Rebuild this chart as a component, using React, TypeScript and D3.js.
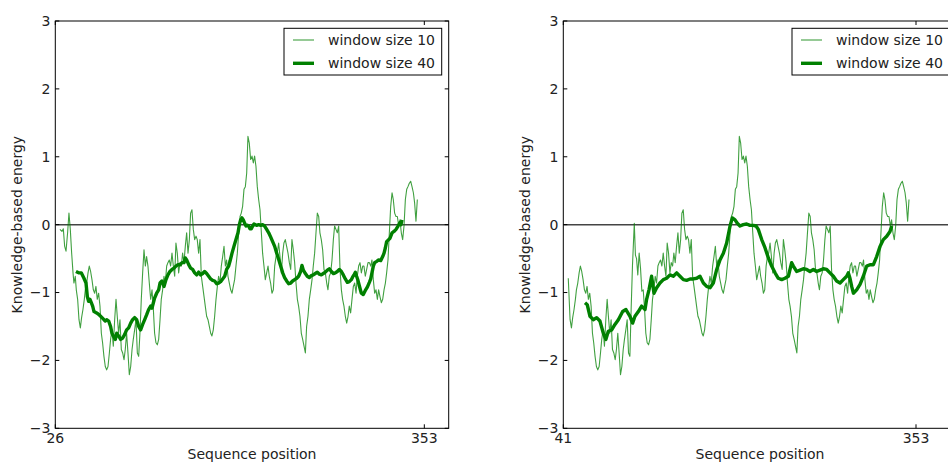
import React from "react";
import * as d3 from "d3";

// ---------- data ----------
const SERIES_LABELS = ["window size 10", "window size 40"];
const Y_TICKS = [-3, -2, -1, 0, 1, 2, 3];
const LEFT_X_TICKS = [26, 353];
const RIGHT_X_TICKS = [41, 353];
const LEFT_X_DOMAIN = [26, 374.6];
const RIGHT_X_DOMAIN = [41, 389];
const X_LABEL = "Sequence position";
const Y_LABEL = "Knowledge-based energy";

const LEFT_THIN_POS = [30.1,31.9,33.1,34.3,35.5,36.9,38.1,39.3,40.5,41.7,42.5,43.7,44.6,45.8,47.0,48.2,49.3,50.5,51.7,52.6,53.8,55.0,56.1,57.3,58.5,59.7,60.9,62.0,63.2,64.4,65.6,66.8,67.9,69.1,70.3,71.5,72.7,73.9,75.0,76.2,77.4,78.6,79.8,80.9,82.1,83.3,84.5,85.7,86.9,88.0,89.2,90.4,91.6,92.8,94.0,95.1,96.3,97.5,98.7,99.9,101.0,102.2,103.4,104.6,105.8,106.9,108.1,109.3,110.5,111.7,112.9,114.0,115.2,116.4,117.6,118.8,119.9,121.1,122.3,123.5,124.7,125.8,127.0,128.2,129.4,130.6,131.8,132.9,134.1,135.3,136.5,137.7,138.8,140.0,141.2,142.4,143.6,144.8,145.9,147.1,148.3,149.5,150.7,151.8,153.0,154.2,155.4,156.6,157.8,158.9,160.1,161.3,162.5,163.7,164.8,166.0,167.2,168.4,169.6,170.7,171.9,173.1,174.3,175.5,176.7,177.8,179.0,180.2,181.4,182.6,183.7,184.9,186.1,187.3,188.5,189.7,190.8,192.0,193.2,194.4,195.6,196.7,197.9,199.1,200.3,201.5,202.6,203.8,205.0,206.2,207.4,208.6,209.7,210.9,212.1,213.3,214.5,215.6,216.8,218.0,219.2,220.4,221.6,222.7,223.9,225.1,226.3,227.5,228.6,229.8,231.0,232.2,233.4,234.6,235.7,236.9,238.1,239.3,240.5,241.6,242.8,244.0,245.2,246.4,247.6,248.7,249.9,251.1,252.3,253.5,254.6,255.8,257.0,258.2,259.4,260.5,261.7,262.9,264.1,265.3,266.5,267.6,268.8,270.0,271.2,272.4,273.5,274.7,275.9,277.1,278.3,279.5,280.6,281.8,283.0,284.2,285.4,286.5,287.7,288.9,290.1,291.3,292.5,293.6,294.8,296.0,297.2,298.4,299.5,300.7,301.9,303.1,304.3,305.5,306.6,307.8,309.0,310.2,311.4,312.5,313.7,314.9,316.1,317.3,318.5,319.6,320.8,322.0,323.2,324.4,325.5,326.7,327.9,329.1,330.3,331.4,332.6,333.8,335.0,336.2,337.4,338.5,339.7,340.9,342.1,343.3,344.4,345.6,346.8];
const LEFT_THIN_VAL = [-0.07,-0.10,-0.06,-0.32,-0.39,-0.12,0.17,-0.07,-0.42,-0.71,-0.86,-0.76,-0.96,-1.10,-1.40,-1.52,-1.37,-1.25,-1.10,-0.96,-0.86,-0.71,-0.61,-0.69,-0.81,-0.96,-1.01,-0.91,-1.10,-1.01,-1.20,-1.60,-1.74,-1.94,-2.09,-2.14,-2.09,-1.89,-1.69,-1.55,-1.79,-1.40,-1.10,-1.35,-1.60,-1.40,-1.84,-1.89,-1.99,-1.84,-1.60,-1.89,-2.21,-2.09,-1.84,-1.69,-1.55,-1.40,-1.89,-1.94,-1.60,-1.10,-0.71,-0.37,-0.61,-0.47,-0.61,-0.86,-1.10,-0.96,-1.25,-1.60,-1.74,-1.77,-1.69,-1.40,-1.10,-0.96,-0.76,-0.86,-0.61,-0.56,-0.52,-0.61,-0.42,-0.61,-0.76,-0.27,-0.42,-0.71,-0.56,-0.61,-0.42,-0.56,-0.32,-0.12,-0.42,-0.22,0.17,0.22,-0.07,-0.22,-0.17,-0.22,-0.42,-0.22,-0.76,-0.91,-1.06,-1.20,-1.35,-1.40,-1.50,-1.60,-1.64,-1.55,-1.35,-1.10,-0.91,-0.76,-0.86,-0.61,-0.47,-0.32,-0.61,-0.52,-0.76,-0.86,-0.96,-1.01,-0.91,-0.81,-0.61,-0.42,-0.12,0.12,0.17,0.27,0.52,0.56,0.76,1.30,1.20,0.96,1.01,0.91,1.01,0.86,0.56,0.37,0.22,-0.12,-0.42,-0.61,-0.81,-0.71,-0.61,-0.76,-0.86,-1.01,-0.96,-0.61,-0.47,-0.42,-0.27,-0.47,-0.71,-0.42,-0.27,-0.22,-0.32,-0.42,-0.56,-0.66,-0.22,-0.37,-0.56,-0.86,-1.10,-1.20,-1.35,-1.60,-1.69,-1.79,-1.89,-1.50,-1.35,-1.10,-0.96,-0.81,-0.61,-0.42,-0.12,0.17,0.12,-0.12,-0.22,-0.37,-0.66,-0.71,-0.86,-0.96,-0.76,-0.71,-0.52,-0.22,-0.02,-0.07,-0.12,-0.02,-0.66,-0.96,-1.10,-1.20,-1.35,-1.45,-1.35,-1.20,-1.30,-1.10,-0.91,-0.86,-1.01,-0.76,-0.61,-0.56,-0.71,-0.61,-0.61,-0.76,-0.66,-0.56,-0.56,-0.61,-0.52,-0.81,-1.01,-0.96,-1.10,-0.96,-1.06,-1.15,-1.10,-0.96,-0.86,-0.71,-0.52,-0.12,0.27,0.47,0.37,0.17,0.12,0.12,-0.02,0.07,-0.12,-0.22,-0.02,0.37,0.52,0.56,0.61,0.64,0.56,0.47,0.32,0.05,0.37];

const LEFT_THICK_POS = [44.3,46.7,49.0,51.4,53.2,54.4,55.5,56.7,57.9,59.1,60.3,62.6,65.0,67.4,69.1,70.3,71.5,73.3,75.0,76.2,77.4,79.2,80.4,82.1,83.9,85.7,87.4,89.2,91.0,92.8,94.5,96.3,98.1,99.9,101.6,103.4,105.2,106.9,108.7,110.5,111.7,112.9,114.0,115.8,117.6,118.8,120.5,122.3,124.1,125.8,127.6,129.4,131.2,132.9,134.7,136.5,138.3,140.0,141.2,142.4,144.2,145.9,147.7,149.5,151.3,153.0,154.8,156.6,158.3,160.1,161.9,163.7,165.4,167.2,169.0,170.7,172.5,174.3,176.1,177.8,179.6,180.8,182.6,184.3,186.1,187.9,189.1,190.2,191.4,192.6,193.8,195.0,196.2,197.3,198.5,199.7,200.9,202.1,203.2,204.4,206.2,208.0,209.7,211.5,213.3,215.1,216.8,218.6,220.4,222.2,223.9,225.7,227.5,229.2,231.0,232.8,234.6,236.3,238.1,239.9,241.6,243.4,244.6,245.8,247.6,249.3,251.1,252.9,254.6,256.4,258.2,260.0,261.7,263.5,265.3,267.1,268.8,270.6,272.4,274.1,275.9,277.7,279.5,281.2,283.0,284.8,286.5,288.3,289.5,290.7,291.9,293.0,294.2,295.4,297.2,298.9,300.7,302.5,304.3,305.5,306.6,307.8,309.0,310.8,312.5,314.3,316.1,317.3,318.5,319.6,321.4,322.6,324.4,326.1,327.9,329.7,331.4,332.3,333.2];
const LEFT_THICK_VAL = [-0.69,-0.71,-0.71,-0.79,-0.86,-1.06,-1.13,-1.10,-1.15,-1.20,-1.28,-1.30,-1.33,-1.37,-1.40,-1.42,-1.40,-1.42,-1.50,-1.60,-1.64,-1.69,-1.60,-1.64,-1.69,-1.67,-1.62,-1.55,-1.52,-1.45,-1.40,-1.37,-1.40,-1.50,-1.55,-1.47,-1.40,-1.33,-1.25,-1.20,-1.23,-1.15,-1.08,-1.01,-0.96,-0.86,-0.83,-0.91,-0.81,-0.74,-0.69,-0.66,-0.64,-0.61,-0.59,-0.59,-0.56,-0.56,-0.49,-0.52,-0.59,-0.64,-0.66,-0.71,-0.74,-0.70,-0.74,-0.72,-0.69,-0.72,-0.76,-0.80,-0.82,-0.83,-0.87,-0.86,-0.84,-0.80,-0.76,-0.66,-0.61,-0.54,-0.42,-0.32,-0.22,-0.12,0.00,0.07,0.10,0.07,0.02,-0.02,-0.01,-0.02,-0.06,-0.06,-0.02,0.01,0.00,-0.01,0.00,-0.01,0.00,-0.02,-0.07,-0.12,-0.18,-0.25,-0.32,-0.42,-0.51,-0.61,-0.71,-0.78,-0.83,-0.87,-0.86,-0.83,-0.81,-0.79,-0.76,-0.69,-0.60,-0.67,-0.72,-0.76,-0.78,-0.75,-0.74,-0.72,-0.70,-0.73,-0.74,-0.72,-0.70,-0.67,-0.65,-0.69,-0.72,-0.71,-0.69,-0.66,-0.69,-0.74,-0.80,-0.85,-0.84,-0.81,-0.77,-0.74,-0.70,-0.76,-0.82,-0.90,-1.01,-1.03,-0.97,-0.92,-0.85,-0.80,-0.71,-0.61,-0.56,-0.54,-0.52,-0.53,-0.47,-0.42,-0.34,-0.25,-0.22,-0.20,-0.12,-0.10,-0.07,-0.02,0.03,0.00,0.07];

// right panel (sequence starting at 41): first point, and the stretch that differs
const RIGHT_THIN_HEAD_POS = [45.4];
const RIGHT_THIN_HEAD_VAL = [-0.79];
const RIGHT_THIN_PATCH_POS = [101.0,102.2,103.8,104.8,105.8,106.9,108.1,109.3,110.5,111.7];
const RIGHT_THIN_PATCH_VAL = [-1.25,-0.60,0.02,-0.45,-0.50,-0.74,-0.42,-0.64,-0.98,-0.96];

const RIGHT_THICK_POS = [60.2,62.2,64.6,67.5,70.5,73.4,76.4,78.7,80.8,83.8,86.7,89.7,93.5,96.4,100.0,102.3,104.4,107.4,110.3,113.3,114.7,116.8,119.1,121.2,123.6,126.5,129.5,132.4,135.4,138.3,141.3,144.2,147.2,150.1,153.1,156.0,159.0,161.9,164.9,167.8,170.8,173.7,176.7,179.6,182.6,185.5,188.5,190.5,192.9,194.9,197.3,200.2,203.2,206.1,209.1,211.5,213.5,216.5,219.4,222.4,225.3,228.3,231.2,234.2,237.1,240.1,243.0,244.5,247.4,250.4,253.3,256.3,259.2,262.2,265.1,268.1,271.0,274.0,276.9,279.9,282.8,285.8,288.7,291.7,293.1,294.6,296.1,297.6,300.5,303.5,306.4,309.4,312.3,315.3,318.2,321.2,324.1,327.1,330.0,331.5];
const RIGHT_THICK_VAL = [-1.15,-1.18,-1.35,-1.40,-1.37,-1.42,-1.60,-1.69,-1.57,-1.55,-1.47,-1.40,-1.28,-1.25,-1.35,-1.45,-1.35,-1.28,-1.20,-1.25,-1.10,-0.96,-0.76,-1.01,-0.93,-0.86,-0.81,-0.79,-0.74,-0.76,-0.71,-0.76,-0.81,-0.82,-0.80,-0.80,-0.79,-0.76,-0.86,-0.91,-0.93,-0.86,-0.66,-0.52,-0.42,-0.27,-0.02,0.10,0.07,0.02,-0.02,0.00,0.01,-0.01,-0.01,-0.02,-0.07,-0.22,-0.34,-0.49,-0.61,-0.71,-0.79,-0.81,-0.79,-0.76,-0.56,-0.61,-0.69,-0.67,-0.65,-0.66,-0.69,-0.66,-0.69,-0.67,-0.65,-0.66,-0.71,-0.76,-0.83,-0.86,-0.81,-0.76,-0.71,-0.79,-0.91,-1.01,-0.96,-0.88,-0.76,-0.61,-0.59,-0.59,-0.47,-0.32,-0.22,-0.17,-0.10,-0.02];

const RIGHT_THIN_POS = RIGHT_THIN_HEAD_POS.concat(LEFT_THIN_POS.slice(14, 60), RIGHT_THIN_PATCH_POS, LEFT_THIN_POS.slice(70));
const RIGHT_THIN_VAL = RIGHT_THIN_HEAD_VAL.concat(LEFT_THIN_VAL.slice(14, 60), RIGHT_THIN_PATCH_VAL, LEFT_THIN_VAL.slice(70));

// ---------- layout ----------
const W = 948;
const H = 462;
const TOP = 21;
const BOTTOM = 428.3;
const AX_W = 393.4;
const FONT = "'DejaVu Sans', 'Liberation Sans', sans-serif";
const FS = 14;
const GREEN = "#008000";
const TEXT = "#222";

type PanelProps = {
  id: string;
  x0: number;
  xDomain: number[];
  xTicks: number[];
  thinPos: number[];
  thinVal: number[];
  thickPos: number[];
  thickVal: number[];
};

const fmt = (v: number) => (v < 0 ? "\u2212" + Math.abs(v) : String(v));

function Panel({ id, x0, xDomain, xTicks, thinPos, thinVal, thickPos, thickVal }: PanelProps) {
  const x1 = x0 + AX_W;
  const xs = d3.scaleLinear().domain(xDomain).range([x0, x1]);
  const ys = d3.scaleLinear().domain([-3, 3]).range([BOTTOM, TOP]);
  const line = d3
    .line<[number, number]>()
    .x((d) => xs(d[0]))
    .y((d) => ys(d[1]));
  const thin = d3.zip(thinPos, thinVal) as [number, number][];
  const thick = d3.zip(thickPos, thickVal) as [number, number][];
  const tl = 4;
  const legR = x1 - 7;
  const legL = legR - 157.7;
  const legT = 28.3;
  const legB = 75;
  return (
    <g>
      <defs>
        <clipPath id={id}>
          <rect x={x0} y={TOP} width={AX_W} height={BOTTOM - TOP} />
        </clipPath>
      </defs>
      <g clipPath={`url(#${id})`}>
        <line x1={x0} x2={x1} y1={ys(0)} y2={ys(0)} stroke="#444" strokeWidth={1.5} />
        <path d={line(thin) || ""} fill="none" stroke={GREEN} strokeOpacity={0.75} strokeWidth={1.1} strokeLinejoin="round" />
        <path d={line(thick) || ""} fill="none" stroke={GREEN} strokeWidth={3.4} strokeLinejoin="round" />
      </g>
      <rect x={x0} y={TOP} width={AX_W} height={BOTTOM - TOP} fill="none" stroke="#000" strokeWidth={1} />
      {Y_TICKS.map((t) => (
        <g key={"y" + t}>
          <line x1={x0} x2={x0 + tl} y1={ys(t)} y2={ys(t)} stroke="#000" />
          <line x1={x1} x2={x1 - tl} y1={ys(t)} y2={ys(t)} stroke="#000" />
          <text x={x0 - 5} y={ys(t)} dy="0.35em" textAnchor="end" fontFamily={FONT} fontSize={FS} fill={TEXT}>
            {fmt(t)}
          </text>
        </g>
      ))}
      {xTicks.map((t) => (
        <g key={"x" + t}>
          <line x1={xs(t)} x2={xs(t)} y1={BOTTOM} y2={BOTTOM - tl} stroke="#000" />
          <line x1={xs(t)} x2={xs(t)} y1={TOP} y2={TOP + tl} stroke="#000" />
          <text x={xs(t)} y={442.5} textAnchor="middle" fontFamily={FONT} fontSize={FS} fill={TEXT}>
            {t}
          </text>
        </g>
      ))}
      <text x={(x0 + x1) / 2} y={459} textAnchor="middle" fontFamily={FONT} fontSize={FS} fill={TEXT}>
        {X_LABEL}
      </text>
      <text
        transform={`translate(${x0 - 33.8},${(TOP + BOTTOM) / 2}) rotate(-90)`}
        textAnchor="middle"
        fontFamily={FONT}
        fontSize={FS}
        fill={TEXT}
      >
        {Y_LABEL}
      </text>
      <rect x={legL} y={legT} width={legR - legL} height={legB - legT} fill="#fff" stroke="#000" strokeWidth={1} />
      {SERIES_LABELS.map((s, i) => {
        const yy = i === 0 ? 40 : 63.3;
        return (
          <g key={s}>
            <line
              x1={legL + 9}
              x2={legL + 30}
              y1={yy}
              y2={yy}
              stroke={GREEN}
              strokeWidth={i === 0 ? 1.1 : 3.4}
              strokeOpacity={i === 0 ? 0.75 : 1}
            />
            <text x={legL + 44} y={yy} dy="0.35em" fontFamily={FONT} fontSize={FS} fill={TEXT}>
              {s}
            </text>
          </g>
        );
      })}
    </g>
  );
}

export default function App() {
  return (
    <svg
      width={W}
      height={H}
      style={{ position: "absolute", left: 0, top: 0, background: "#fff" }}
      xmlns="http://www.w3.org/2000/svg"
    >
      <rect x={0} y={0} width={W} height={H} fill="#fff" />
      <Panel
        id="clipL"
        x0={55.3}
        xDomain={LEFT_X_DOMAIN}
        xTicks={LEFT_X_TICKS}
        thinPos={LEFT_THIN_POS}
        thinVal={LEFT_THIN_VAL}
        thickPos={LEFT_THICK_POS}
        thickVal={LEFT_THICK_VAL}
      />
      <Panel
        id="clipR"
        x0={563.3}
        xDomain={RIGHT_X_DOMAIN}
        xTicks={RIGHT_X_TICKS}
        thinPos={RIGHT_THIN_POS}
        thinVal={RIGHT_THIN_VAL}
        thickPos={RIGHT_THICK_POS}
        thickVal={RIGHT_THICK_VAL}
      />
    </svg>
  );
}
